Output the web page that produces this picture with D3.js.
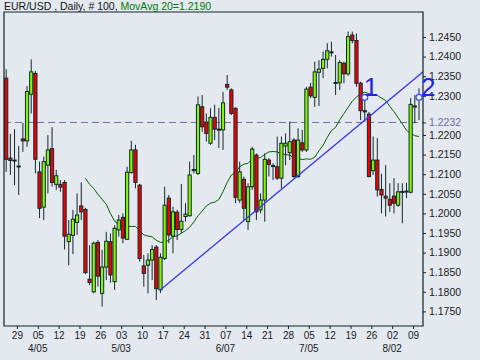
<!DOCTYPE html>
<html>
<head>
<meta charset="UTF-8">
<title>EUR/USD Daily</title>
<script src="https://d3js.org/d3.v7.min.js"></script>
<style>
  body { margin: 0; background: #e4e9f0; }
  svg { display: block; font-family: "Liberation Sans", Arial, sans-serif; }
</style>
</head>
<body>
<div id="chart"></div>
<script>
// daily bars, 24 Mar .. 10 Aug (index 0..99)
const open = [1.2345,1.2141,1.2136,1.2120,1.2190,1.2185,1.2304,1.2357,1.2106,1.2016,
  1.2123,1.2165,1.2074,1.2074,1.2079,1.1928,1.1944,1.1977,1.2019,1.2010,
  1.1832,1.1800,1.1926,1.1796,1.1863,1.1928,1.1826,1.1958,1.1990,1.1934,
  1.2104,1.2162,1.2072,1.1866,1.1868,1.1881,1.1914,1.1805,1.1885,1.2039,
  1.1942,1.2003,1.1959,1.1992,1.1994,1.2109,1.2102,1.2272,1.2233,1.2179,
  1.2245,1.2215,1.2213,1.2329,1.2315,1.2268,1.2034,1.2087,1.1979,1.2068,
  1.2149,1.2009,1.2034,1.2136,1.2122,1.2119,1.2090,1.2172,1.2155,1.2187,
  1.2094,1.2180,1.2162,1.2322,1.2296,1.2360,1.2370,1.2393,1.2412,1.2334,
  1.2333,1.2383,1.2356,1.2455,1.2441,1.2332,1.2262,1.2253,1.2109,1.2136,
  1.2061,1.2044,1.2036,1.2044,1.2021,1.2055,1.2055,1.2054,1.2274,1.2294];
const high = [1.2368,1.2203,1.2215,1.2172,1.2231,1.2325,1.2393,1.2363,1.2132,1.2145,
  1.2200,1.2220,1.2111,1.2085,1.2085,1.1983,1.2009,1.2051,1.2079,1.2014,
  1.1919,1.1928,1.1932,1.1907,1.1953,1.1949,1.1970,1.1996,1.2000,1.2119,
  1.2185,1.2175,1.2075,1.1894,1.1898,1.1919,1.1919,1.1898,1.2068,1.2047,
  1.2017,1.2009,1.2075,1.2026,1.2132,1.2149,1.2298,1.2302,1.2255,1.2268,
  1.2277,1.2269,1.2310,1.2353,1.2319,1.2271,1.2132,1.2094,1.2077,1.2170,
  1.2153,1.2051,1.2153,1.2141,1.2128,1.2196,1.2196,1.2204,1.2234,1.2192,
  1.2217,1.2213,1.2323,1.2333,1.2387,1.2391,1.2413,1.2434,1.2438,1.2404,
  1.2391,1.2387,1.2464,1.2464,1.2459,1.2336,1.2300,1.2259,1.2196,1.2192,
  1.2101,1.2123,1.2077,1.2090,1.2077,1.2077,1.2078,1.2294,1.2302,1.2319];
const low = [1.2106,1.2098,1.2072,1.2047,1.2157,1.2170,1.2255,1.2102,1.1988,1.1983,
  1.2051,1.2068,1.2060,1.2055,1.1908,1.1868,1.1896,1.1945,1.1983,1.1845,
  1.1817,1.1796,1.1813,1.1762,1.1830,1.1823,1.1805,1.1941,1.1924,1.1932,
  1.2102,1.2064,1.1877,1.1813,1.1796,1.1830,1.1779,1.1797,1.1881,1.1924,
  1.1898,1.1932,1.1949,1.1979,1.1992,1.2102,1.2098,1.2208,1.2183,1.2175,
  1.2187,1.2167,1.2162,1.2315,1.2251,1.2026,1.2027,1.1983,1.1958,1.2060,
  1.1983,1.2000,1.1979,1.2094,1.2085,1.2085,1.2064,1.2123,1.2136,1.2090,
  1.2090,1.2157,1.2157,1.2294,1.2272,1.2274,1.2345,1.2370,1.2400,1.2302,
  1.2315,1.2332,1.2351,1.2434,1.2323,1.2238,1.2234,1.2092,1.2098,1.2043,
  1.2000,1.1992,1.2004,1.2000,1.2017,1.1975,1.2039,1.2051,1.2230,1.2238];
const close = [1.2138,1.2135,1.2134,1.2121,1.2185,1.2311,1.2361,1.2138,1.2013,1.2132,
  1.2162,1.2079,1.2096,1.2067,1.1942,1.1947,1.1985,1.1996,1.2004,1.1849,
  1.1824,1.1924,1.1840,1.1863,1.1929,1.1843,1.1962,1.1983,1.1937,1.2105,
  1.2162,1.2079,1.1885,1.1847,1.1881,1.1908,1.1808,1.1888,1.2021,1.1945,
  1.2004,1.1959,1.1980,1.1998,1.2098,1.2112,1.2277,1.2221,1.2204,1.2245,
  1.2215,1.2213,1.2282,1.2322,1.2255,1.2041,1.2106,1.2013,1.2068,1.2164,
  1.2004,1.2034,1.2138,1.2125,1.2120,1.2090,1.2179,1.2179,1.2183,1.2094,
  1.2187,1.2162,1.2317,1.2300,1.2361,1.2368,1.2393,1.2415,1.2410,1.2333,
  1.2385,1.2356,1.2451,1.2441,1.2332,1.2262,1.2259,1.2094,1.2136,1.2060,
  1.2047,1.2039,1.2021,1.2026,1.2055,1.2056,1.2057,1.2278,1.2272,1.2297];

// 1.2250 is left out: the reference level label takes its place
const priceTicks = [1.175,1.180,1.185,1.190,1.195,1.200,1.205,1.210,1.215,1.220,1.230,1.235,1.240,1.245];
const refLevel = 1.2232;

const dayIdx = [3,8,13,18,23,28,33,38,43,48,53,58,63,68,73,78,83,88,93,98];
const dayLabels = ["29","05","12","19","26","03","10","17","24","31","07","14","21","28","05","12","19","26","02","09"];
const monthIdx = [8,28,53,73,93];
const monthLabels = ["4/05","5/03","6/07","7/05","8/02"];

// trend line points [bar index, price] and marked points
const trend = [[37, 1.1805], [100.2, 1.2363]];
const marks = [{i: 86, p: 1.2296, label: "1"}, {i: 99, p: 1.2296, label: "2"}];
const maLen = 20;

const W = 480, H = 360;
const box = {left: 4, right: 423, top: 12, bottom: 326};
const labelShift = {"1": [-1, -1], "2": [2, -1]};

const svg = d3.select("#chart").append("svg")
  .attr("width", W).attr("height", H);

svg.append("rect").attr("width", W).attr("height", H).attr("fill", "#e4e9f0");

const x = d3.scaleLinear().domain([0, 99]).range([6.2, 419]);
const y = d3.scaleLinear().domain([1.175, 1.245]).range([311.4, 37]);

svg.append("clipPath").attr("id", "plot")
  .append("rect").attr("x", box.left).attr("y", box.top)
  .attr("width", box.right - box.left).attr("height", box.bottom - box.top);

// reference level
svg.append("line")
  .attr("x1", box.left).attr("x2", box.right)
  .attr("y1", y(refLevel)).attr("y2", y(refLevel))
  .attr("stroke", "#6a70a8").attr("stroke-width", 1)
  .attr("stroke-dasharray", "7,4");

// moving average
const ma = [];
for (let i = maLen - 1; i < close.length; i++) {
  ma.push([i, d3.mean(close.slice(i - maLen + 1, i + 1))]);
}
svg.append("path").datum(ma)
  .attr("fill", "none").attr("stroke", "#006400").attr("stroke-width", 1)
  .attr("d", d3.line().x(d => x(d[0])).y(d => y(d[1])));

// candles
const bars = d3.range(open.length).map(i => ({i, o: open[i], h: high[i], l: low[i], c: close[i]}));
const g = svg.append("g").attr("clip-path", "url(#plot)");
g.selectAll("line.wick").data(bars).join("line")
  .attr("class", "wick")
  .attr("x1", d => x(d.i)).attr("x2", d => x(d.i))
  .attr("y1", d => y(d.h)).attr("y2", d => y(d.l))
  .attr("stroke", "#13282c").attr("stroke-width", 1);
g.selectAll("rect.body").data(bars).join("rect")
  .attr("class", "body")
  .attr("x", d => x(d.i) - 1.6).attr("width", 3.2)
  .attr("y", d => y(Math.max(d.o, d.c)))
  .attr("height", d => Math.max(1, Math.abs(y(d.o) - y(d.c))))
  .attr("fill", d => d.c >= d.o ? "#80f800" : "#f00000")
  .attr("stroke", "#13282c").attr("stroke-width", 1);

// trend line
svg.append("line").attr("clip-path", "url(#plot)")
  .attr("x1", x(trend[0][0])).attr("y1", y(trend[0][1]))
  .attr("x2", x(trend[1][0])).attr("y2", y(trend[1][1]))
  .attr("stroke", "#3838f0").attr("stroke-width", 1.3);

// frame
svg.append("path")
  .attr("d", `M${box.left},${box.top}H${box.right}V${box.bottom}H${box.left}Z`)
  .attr("fill", "none").attr("stroke", "#10222a").attr("stroke-width", 1.2);

// right axis
const yAxis = svg.append("g")
  .attr("transform", `translate(${box.right},0)`)
  .call(d3.axisRight(y).tickValues(priceTicks).tickFormat(d3.format(".4f")).tickSize(3).tickPadding(3));
const refAxis = svg.append("g")
  .attr("transform", `translate(${box.right},0)`)
  .call(d3.axisRight(y).tickValues([refLevel]).tickFormat(d3.format(".4f")).tickSize(3).tickPadding(3));
[yAxis, refAxis].forEach(a => {
  a.select(".domain").remove();
  a.selectAll("line").attr("stroke", "#10222a");
  a.selectAll("text").attr("font-size", 10.5).attr("font-family", "Liberation Sans, Arial, sans-serif");
});
yAxis.selectAll("text").attr("fill", "#1a1a22");
refAxis.selectAll("text").attr("fill", "#6a6aa6");

// bottom axis
const xAxis = svg.append("g")
  .attr("transform", `translate(-1.8,${box.bottom})`)
  .call(d3.axisBottom(x).tickValues(dayIdx).tickFormat((d, k) => dayLabels[k]).tickSize(3).tickPadding(3));
xAxis.select(".domain").remove();
xAxis.selectAll("line").attr("stroke", "#10222a");
xAxis.selectAll("text").attr("font-size", 10).attr("fill", "#1a1a22")
  .attr("font-family", "Liberation Sans, Arial, sans-serif");

svg.append("g").selectAll("text").data(monthIdx).join("text")
  .attr("x", d => x(d) - 1.8).attr("y", 352)
  .attr("text-anchor", "middle").attr("font-size", 10).attr("fill", "#1a1a22")
  .text((d, k) => monthLabels[k]);

// marks
svg.selectAll("circle.mark").data(marks).join("circle")
  .attr("class", "mark")
  .attr("cx", d => x(d.i)).attr("cy", d => y(d.p)).attr("r", 3)
  .attr("fill", "#f0f4ff").attr("stroke", "#2a4cff").attr("stroke-width", 1.2);
svg.selectAll("text.mark").data(marks).join("text")
  .attr("class", "mark")
  .attr("x", d => x(d.i) + labelShift[d.label][0]).attr("y", d => y(d.p) + labelShift[d.label][1])
  .attr("font-size", 26).attr("fill", "#2424e6")
  .text(d => d.label);

// title
const title = svg.append("text").attr("x", 4).attr("y", 10).attr("font-size", 10.5);
title.append("tspan").attr("fill", "#111").text("EUR/USD , Daily, # 100, ");
title.append("tspan").attr("fill", "#007a00").text("MovAvg 20=1.2190");
</script>
</body>
</html>
